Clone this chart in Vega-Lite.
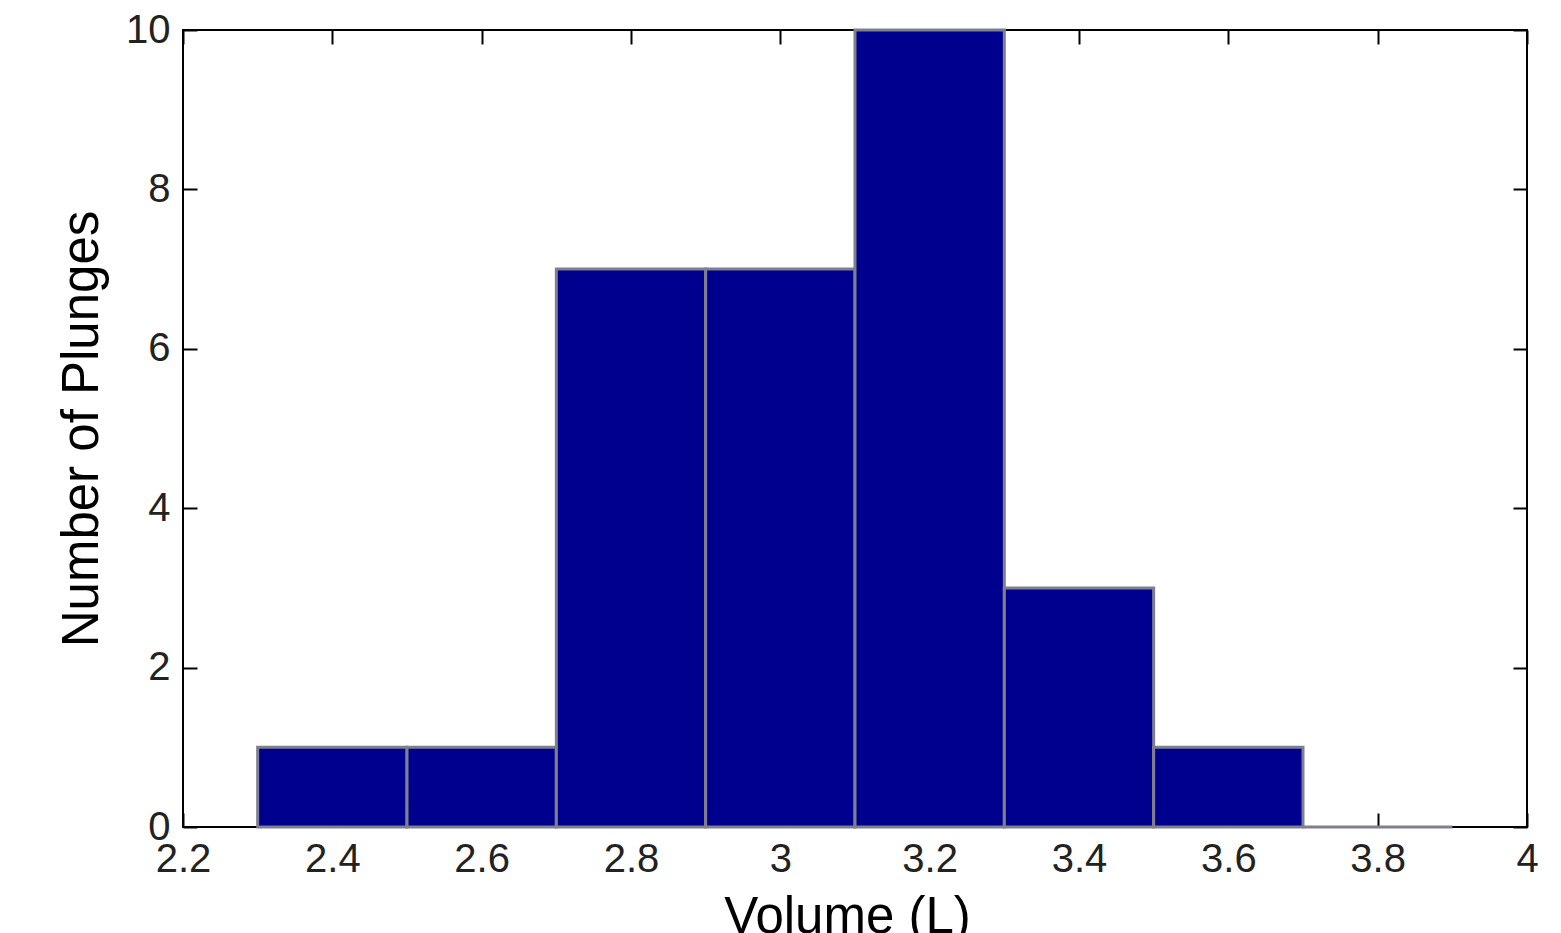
{
  "$schema": "https://vega.github.io/schema/vega-lite/v6.json",
  "width": 1344,
  "height": 797,
  "autosize": {"type": "none"},
  "padding": {"left": 183, "top": 30, "right": 34, "bottom": 106},
  "background": "white",
  "config": {
    "view": {"stroke": "black", "strokeWidth": 2},
    "axis": {
      "grid": false,
      "domain": false,
      "tickColor": "black",
      "tickWidth": 2,
      "tickSize": -14,
      "labelFlush": false,
      "labelFont": "Liberation Sans",
      "labelFontSize": 40,
      "labelColor": "#222222",
      "titleFont": "Liberation Sans",
      "titleFontSize": 51,
      "titleFontWeight": "normal",
      "titleColor": "black"
    }
  },
  "data": {
    "values": [
      {"bin_start": 2.3, "bin_end": 2.5, "count": 1},
      {"bin_start": 2.5, "bin_end": 2.7, "count": 1},
      {"bin_start": 2.7, "bin_end": 2.9, "count": 7},
      {"bin_start": 2.9, "bin_end": 3.1, "count": 7},
      {"bin_start": 3.1, "bin_end": 3.3, "count": 10},
      {"bin_start": 3.3, "bin_end": 3.5, "count": 3},
      {"bin_start": 3.5, "bin_end": 3.7, "count": 1},
      {"bin_start": 3.7, "bin_end": 3.9, "count": 0}
    ]
  },
  "layer": [
    {
      "mark": {"type": "rect", "fill": "#00008f", "stroke": "#7f7f8f", "strokeWidth": 3},
      "encoding": {
        "x": {
          "field": "bin_start", "type": "quantitative",
          "scale": {"domain": [2.2, 4], "nice": false, "zero": false},
          "axis": {"values": [2.2, 2.4, 2.6, 2.8, 3.0, 3.2, 3.4, 3.6, 3.8, 4.0], "format": "~g", "labelPadding": 26, "title": "Volume (L)", "titlePadding": 13, "titleX": 664}
        },
        "x2": {"field": "bin_end"},
        "y": {
          "field": "count", "type": "quantitative",
          "scale": {"domain": [0, 10], "nice": false},
          "axis": {"values": [0, 2, 4, 6, 8, 10], "labelPadding": 27, "title": "Number of Plunges", "titlePadding": 17}
        },
        "y2": {"datum": 0}
      }
    },
    {
      "mark": {"type": "rect", "opacity": 0},
      "encoding": {
        "x": {
          "field": "bin_start", "type": "quantitative",
          "scale": {"domain": [2.2, 4], "nice": false, "zero": false},
          "axis": {"orient": "top", "values": [2.2, 2.4, 2.6, 2.8, 3.0, 3.2, 3.4, 3.6, 3.8, 4.0], "labels": false, "title": null}
        },
        "x2": {"field": "bin_end"},
        "y": {
          "field": "count", "type": "quantitative",
          "scale": {"domain": [0, 10], "nice": false},
          "axis": {"orient": "right", "values": [0, 2, 4, 6, 8, 10], "labels": false, "title": null}
        },
        "y2": {"datum": 0}
      }
    }
  ],
  "resolve": {"axis": {"x": "independent", "y": "independent"}}
}
